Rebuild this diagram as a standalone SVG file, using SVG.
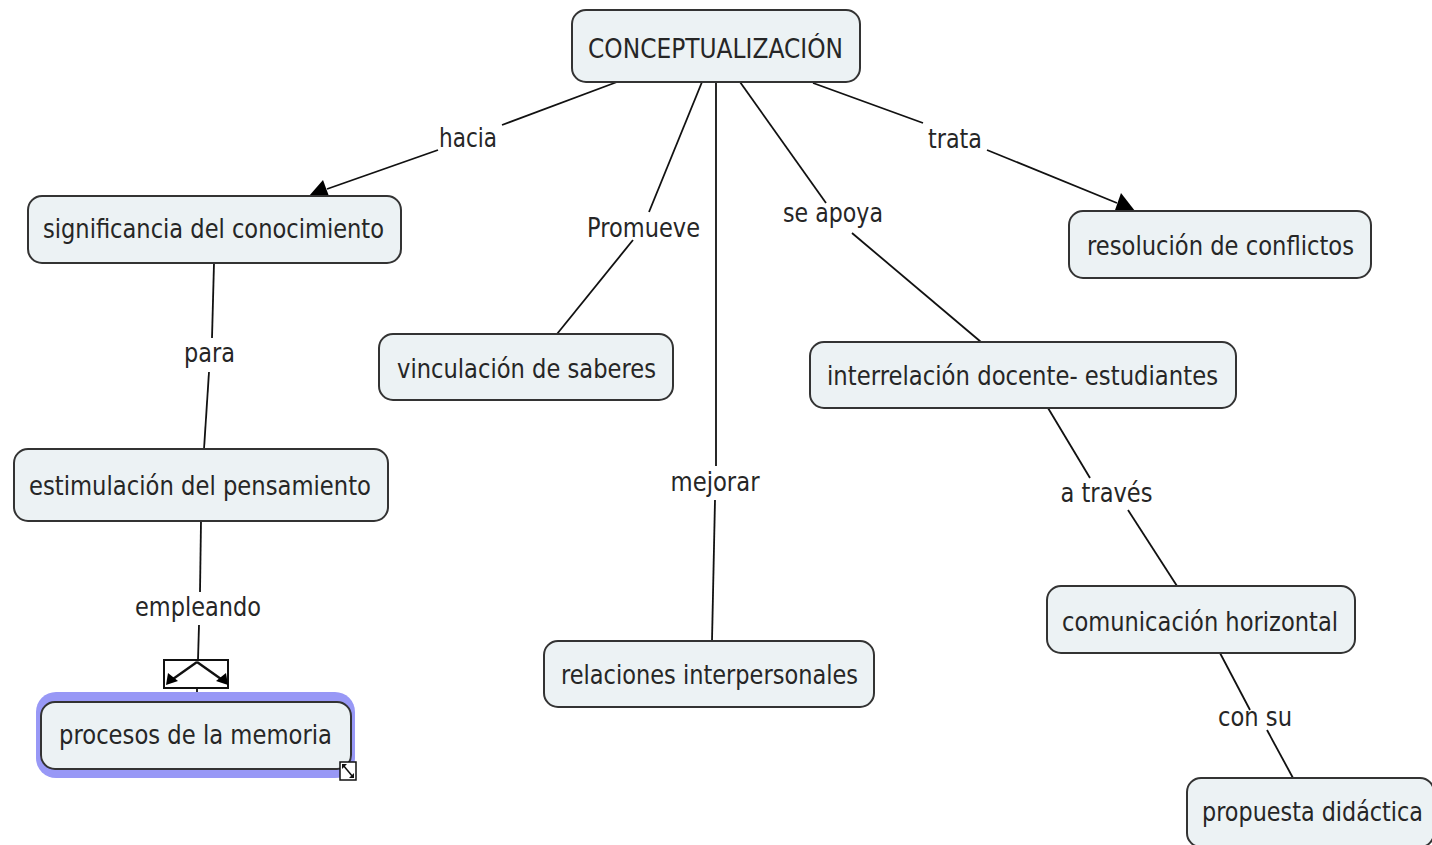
<svg xmlns="http://www.w3.org/2000/svg" width="1432" height="845" viewBox="0 0 1432 845">
<style>
.node rect.box{fill:#ecf2f4;stroke:#333;stroke-width:2}
text{font-family:"DejaVu Sans","Liberation Sans",sans-serif;font-size:27px;fill:#262626;text-anchor:middle}
.conn line{stroke:#111;stroke-width:1.8}
.head{fill:#000}
</style>
<rect width="1432" height="845" fill="#fff"/>
<g id="connectors" class="conn">
  <line x1="617" y1="82" x2="502" y2="125"/>
  <line x1="438" y1="150" x2="327" y2="189"/>
  <polygon class="head" points="309,196 323,180 330,199"/>
  <line x1="813" y1="83" x2="923" y2="123"/>
  <line x1="987" y1="150" x2="1117" y2="203"/>
  <polygon class="head" points="1135,211 1121,193 1114,213"/>
  <line x1="702" y1="82" x2="649" y2="212"/>
  <line x1="633" y1="240" x2="557" y2="334"/>
  <line x1="716" y1="82" x2="716" y2="466"/>
  <line x1="715" y1="500" x2="712" y2="641"/>
  <line x1="740" y1="82" x2="826" y2="203"/>
  <line x1="852" y1="233" x2="981" y2="342"/>
  <line x1="214" y1="263" x2="212" y2="338"/>
  <line x1="209" y1="372" x2="204" y2="449"/>
  <line x1="201" y1="521" x2="200" y2="592"/>
  <line x1="199" y1="625" x2="198" y2="660"/>
  <line x1="197" y1="688" x2="197" y2="700"/>
  <line x1="1048" y1="408" x2="1090" y2="478"/>
  <line x1="1128" y1="510" x2="1177" y2="586"/>
  <line x1="1220" y1="653" x2="1250" y2="710"/>
  <line x1="1267" y1="730" x2="1293" y2="778"/>
  <g id="merge-icon">
    <rect x="164" y="660" width="64" height="28" fill="#fff" stroke="#111" stroke-width="2"/>
    <line x1="197" y1="662" x2="173" y2="679" style="stroke-width:2.4"/>
    <line x1="197" y1="662" x2="221" y2="679" style="stroke-width:2.4"/>
    <polygon class="head" points="166,685 168,673 178,681"/>
    <polygon class="head" points="228,685 216,681 226,673"/>
  </g>
  <text x="468" y="147" textLength="58" lengthAdjust="spacingAndGlyphs">hacia</text>
  <text x="955" y="148" textLength="54" lengthAdjust="spacingAndGlyphs">trata</text>
  <text x="643.5" y="237" textLength="113" lengthAdjust="spacingAndGlyphs">Promueve</text>
  <text x="833" y="222" textLength="100" lengthAdjust="spacingAndGlyphs">se apoya</text>
  <text x="715" y="491" textLength="89" lengthAdjust="spacingAndGlyphs">mejorar</text>
  <text x="209.5" y="362" textLength="51" lengthAdjust="spacingAndGlyphs">para</text>
  <text x="198" y="616" textLength="126" lengthAdjust="spacingAndGlyphs">empleando</text>
  <text x="1106.5" y="502" textLength="92" lengthAdjust="spacingAndGlyphs">a través</text>
  <text x="1255" y="726" textLength="74" lengthAdjust="spacingAndGlyphs">con su</text>
</g>
<g id="n1" class="node"><rect class="box" x="572" y="10" width="288" height="72" rx="14"/><text x="715.5" y="58" textLength="255" lengthAdjust="spacingAndGlyphs">CONCEPTUALIZACIÓN</text></g>
<g id="n2" class="node"><rect class="box" x="28" y="196" width="373" height="67" rx="14"/><text x="213.5" y="238" textLength="341" lengthAdjust="spacingAndGlyphs">significancia del conocimiento</text></g>
<g id="n3" class="node"><rect class="box" x="379" y="334" width="294" height="66" rx="14"/><text x="526.5" y="378" textLength="259" lengthAdjust="spacingAndGlyphs">vinculación de saberes</text></g>
<g id="n4" class="node"><rect class="box" x="810" y="342" width="426" height="66" rx="14"/><text x="1022.5" y="385" textLength="391" lengthAdjust="spacingAndGlyphs">interrelación docente- estudiantes</text></g>
<g id="n5" class="node"><rect class="box" x="1069" y="211" width="302" height="67" rx="14"/><text x="1220.5" y="255" textLength="267" lengthAdjust="spacingAndGlyphs">resolución de conflictos</text></g>
<g id="n6" class="node"><rect class="box" x="14" y="449" width="374" height="72" rx="14"/><text x="200" y="495" textLength="342" lengthAdjust="spacingAndGlyphs">estimulación del pensamiento</text></g>
<g id="n7" class="node"><rect class="box" x="544" y="641" width="330" height="66" rx="14"/><text x="709.5" y="684" textLength="297" lengthAdjust="spacingAndGlyphs">relaciones interpersonales</text></g>
<g id="n8" class="node"><rect class="box" x="1047" y="586" width="308" height="67" rx="14"/><text x="1200" y="631" textLength="276" lengthAdjust="spacingAndGlyphs">comunicación horizontal</text></g>
<g id="n9" class="node">
  <rect x="36" y="692" width="319" height="86" rx="20" fill="#9898f6"/>
  <rect class="box" x="41" y="702" width="310" height="67" rx="14"/>
  <text x="195.5" y="744" textLength="273" lengthAdjust="spacingAndGlyphs">procesos de la memoria</text>
  <g id="resize-icon">
    <rect x="340" y="762" width="16" height="18" fill="#fff" stroke="#111" stroke-width="1.5"/>
    <line x1="343" y1="765" x2="353" y2="777" stroke="#111" stroke-width="1.5"/>
    <polygon points="342,764 347,764 342,769" fill="#111"/>
    <polygon points="354,778 349,778 354,773" fill="#111"/>
  </g>
</g>
<g id="n10" class="node"><rect class="box" x="1187" y="778" width="247" height="69" rx="14"/><text x="1312.5" y="821" textLength="221" lengthAdjust="spacingAndGlyphs">propuesta didáctica</text></g>
</svg>
